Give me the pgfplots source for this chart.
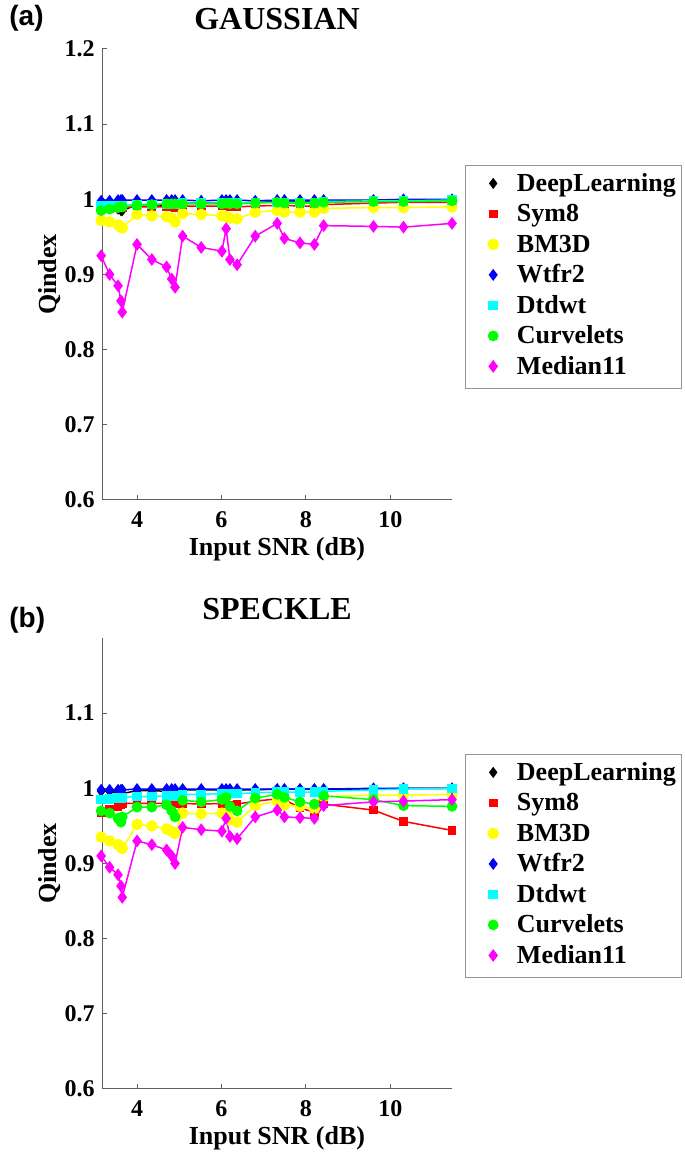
\documentclass[border=0pt]{standalone}
\usepackage{fontspec}
\setmainfont{Liberation Serif}
\newfontfamily\lsans{Liberation Sans}
\usepackage{pgfplots}
\usepackage{pgfplotstable}
\pgfplotsset{compat=1.18}
\definecolor{axgray}{RGB}{95,95,95}
\definecolor{leggray}{RGB}{150,150,150}
\definecolor{myyellow}{RGB}{255,255,0}
\definecolor{mycyan}{RGB}{0,255,255}
\definecolor{mygreen}{RGB}{0,255,0}
\definecolor{mymagenta}{RGB}{255,0,255}

\pgfplotstableread{
x dl sym bm wt dt cv md
3.15 0.991 0.988 0.972 0.998 0.991 0.985 0.925
3.35 0.990 0.988 0.970 0.998 0.991 0.987 0.900
3.55 0.987 0.989 0.966 0.999 0.992 0.989 0.885
3.62 0.985 0.989 0.963 0.999 0.992 0.990 0.865
3.65 0.985 0.989 0.962 0.999 0.992 0.990 0.850
4.00 0.993 0.990 0.980 0.999 0.993 0.992 0.940
4.35 0.993 0.990 0.978 0.999 0.993 0.993 0.920
4.70 0.992 0.990 0.977 0.999 0.994 0.994 0.910
4.82 0.990 0.990 0.975 0.999 0.994 0.994 0.894
4.90 0.990 0.989 0.970 0.999 0.994 0.994 0.883
5.08 0.995 0.991 0.981 0.999 0.995 0.994 0.951
5.52 0.995 0.991 0.980 0.998 0.995 0.994 0.936
6.01 0.995 0.991 0.978 0.999 0.995 0.994 0.931
6.11 0.995 0.991 0.977 0.999 0.995 0.995 0.961
6.20 0.995 0.990 0.975 0.999 0.995 0.994 0.920
6.37 0.995 0.990 0.974 0.999 0.995 0.994 0.913
6.80 0.996 0.991 0.983 0.998 0.996 0.995 0.951
7.32 0.997 0.992 0.985 0.999 0.996 0.996 0.968
7.49 0.997 0.992 0.983 0.999 0.996 0.995 0.948
7.86 0.997 0.991 0.983 0.999 0.996 0.995 0.942
8.20 0.997 0.991 0.983 0.999 0.996 0.995 0.940
8.42 0.997 0.993 0.988 0.999 0.997 0.996 0.965
9.60 0.998 0.995 0.989 0.999 0.998 0.997 0.964
10.31 0.999 0.996 0.989 1.000 0.998 0.997 0.963
11.46 0.999 0.996 0.990 1.000 0.999 0.998 0.968
}\gauss

\pgfplotstableread{
x dl sym bm wt dt cv md
3.15 0.996 0.968 0.935 0.998 0.985 0.970 0.910
3.35 0.996 0.972 0.930 0.998 0.986 0.967 0.895
3.55 0.994 0.976 0.925 0.998 0.987 0.960 0.885
3.62 0.993 0.978 0.922 0.998 0.987 0.955 0.870
3.65 0.993 0.980 0.920 0.998 0.988 0.962 0.855
4.00 0.997 0.980 0.952 0.999 0.989 0.975 0.930
4.35 0.997 0.980 0.950 0.999 0.989 0.975 0.925
4.70 0.996 0.980 0.946 0.999 0.990 0.978 0.918
4.82 0.992 0.981 0.943 0.999 0.990 0.970 0.910
4.90 0.990 0.980 0.940 0.999 0.990 0.962 0.900
5.08 0.998 0.980 0.967 0.999 0.992 0.984 0.948
5.52 0.998 0.979 0.966 0.999 0.992 0.982 0.945
6.01 0.998 0.980 0.967 0.999 0.993 0.985 0.943
6.11 0.998 0.980 0.965 0.999 0.993 0.988 0.960
6.20 0.998 0.978 0.958 0.999 0.993 0.976 0.936
6.37 0.998 0.979 0.955 0.999 0.993 0.970 0.933
6.80 0.998 0.983 0.977 0.999 0.994 0.987 0.962
7.32 0.999 0.986 0.983 0.999 0.995 0.992 0.971
7.49 0.999 0.985 0.978 0.999 0.995 0.988 0.962
7.86 0.999 0.974 0.976 0.999 0.995 0.982 0.961
8.20 0.999 0.968 0.973 0.999 0.995 0.979 0.960
8.42 0.999 0.979 0.989 0.999 0.996 0.990 0.977
9.60 0.999 0.971 0.991 1.000 0.998 0.985 0.982
10.31 1.000 0.956 0.991 1.000 0.999 0.977 0.983
11.46 1.000 0.944 0.992 1.000 1.000 0.976 0.985
}\speck

\pgfplotsset{
  panel/.style={
    scale only axis, width=175pt, height=225.5pt,
    xmin=3.17, xmax=11.46, ymin=0.6, ymax=1.2,
    clip=false,
    axis x line=bottom, axis y line=left,
    axis line style={-, draw=axgray, line width=0.5pt},
    xtick={4,6,8,10},
    tick align=inside, major tick length=2.5pt,
    tick style={draw=axgray, line width=0.5pt},
    ticklabel style={font=\bfseries\fontsize{12}{14}\selectfont},
    /pgf/number format/assume math mode=true,
    xticklabel style={anchor=base, yshift=-14pt},
    yticklabel style={anchor=east, inner xsep=0pt, xshift=-3.5pt},
    title style={font=\bfseries\fontsize{16}{18}\selectfont, at={(0.5,1)}, anchor=base, yshift=3.5pt},
    xlabel={Input SNR (dB)},
    xlabel style={font=\bfseries\fontsize{13}{15}\selectfont, at={(0.5,0)}, anchor=base, yshift=-28pt},
    ylabel={Qindex},
    ylabel style={font=\bfseries\fontsize{13}{15}\selectfont, at={(-0.149,0.5)}, anchor=center},
    legend style={at={(1.037,0.743)}, anchor=north west, draw=leggray, line width=0.5pt,
      inner xsep=2.5pt, inner ysep=4pt, row sep=3.25pt,
      font=\bfseries\fontsize{13}{15}\selectfont,
      nodes={inner ysep=0pt, inner xsep=0.5pt, text height=9pt, text depth=3pt}},
    legend cell align=left,
    legend image code/.code={\path (0pt,0pt) (22pt,0pt); \draw[##1, only marks] plot coordinates {(11pt,1pt)};},
  },
  sDL/.style={black, line width=0.75pt, mark=diamond*, mark size=2.2pt},
  sSY/.style={red, line width=0.75pt, mark=square*, mark size=1.8pt},
  sBM/.style={myyellow, line width=0.75pt, mark=*, mark size=2.5pt},
  sWT/.style={blue, line width=0.75pt, mark=diamond*, mark size=2.4pt},
  sDT/.style={mycyan, line width=0.75pt, mark=square*, mark size=2pt},
  sCV/.style={mygreen, line width=0.75pt, mark=*, mark size=2.3pt},
  sMD/.style={mymagenta, line width=0.75pt, mark=diamond*, mark size=2.6pt},
}

\begin{document}
\begin{tikzpicture}
\useasboundingbox (0,0) rectangle (342.5pt,578pt);
\begin{axis}[panel, at={(51pt,328pt)}, anchor=south west,
  title={GAUSSIAN}, ytick={0.6,0.7,0.8,0.9,1,1.1,1.2}]
\addplot[sDL] table[x=x,y=dl]{\gauss};
\addplot[sSY] table[x=x,y=sym]{\gauss};
\addplot[sBM] table[x=x,y=bm]{\gauss};
\addplot[sWT] table[x=x,y=wt]{\gauss};
\addplot[sDT] table[x=x,y=dt]{\gauss};
\addplot[sCV] table[x=x,y=cv]{\gauss};
\addplot[sMD] table[x=x,y=md]{\gauss};
\legend{DeepLearning,Sym8,BM3D,Wtfr2,Dtdwt,Curvelets,Median11}
\end{axis}
\begin{axis}[panel, at={(51pt,33.5pt)}, anchor=south west,
  title={SPECKLE}, ytick={0.6,0.7,0.8,0.9,1,1.1}]
\addplot[sDL] table[x=x,y=dl]{\speck};
\addplot[sSY] table[x=x,y=sym]{\speck};
\addplot[sBM] table[x=x,y=bm]{\speck};
\addplot[sWT] table[x=x,y=wt]{\speck};
\addplot[sDT] table[x=x,y=dt]{\speck};
\addplot[sCV] table[x=x,y=cv]{\speck};
\addplot[sMD] table[x=x,y=md]{\speck};
\legend{DeepLearning,Sym8,BM3D,Wtfr2,Dtdwt,Curvelets,Median11}
\end{axis}
\node[anchor=base west, inner sep=0pt, font=\lsans\bfseries\fontsize{14}{16}\selectfont] at (4.5pt,565.4pt) {(a)};
\node[anchor=base west, inner sep=0pt, font=\lsans\bfseries\fontsize{14}{16}\selectfont] at (4.5pt,264.4pt) {(b)};
\end{tikzpicture}
\end{document}
